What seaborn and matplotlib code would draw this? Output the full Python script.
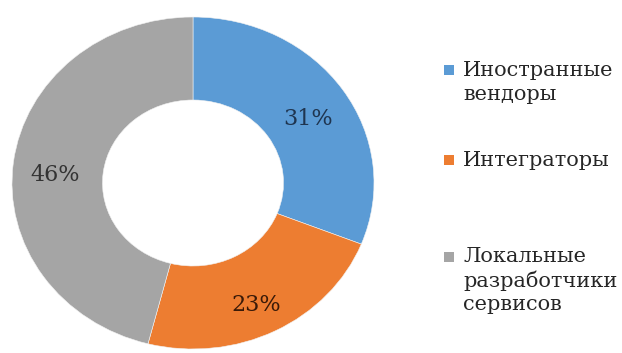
import matplotlib
matplotlib.use("Agg")
import matplotlib.pyplot as plt
from matplotlib.patches import Rectangle
import seaborn as sns

# Market share by player type
categories = ["Иностранные\nвендоры", "Интеграторы", "Локальные\nразработчики\nсервисов"]
shares = [31, 23, 46]
slice_colors = ["#5B9BD5", "#ED7D31", "#A5A5A5"]
label_colors = ["#1F3550", "#3A1A08", "#333333"]

sns.set_theme(style="white")
plt.rcParams["font.family"] = ["DejaVu Serif"]

W, H = 622, 353
fig = plt.figure(figsize=(W / 100, H / 100), dpi=100)
fig.patch.set_facecolor("white")

# Donut axes (slightly wider than tall)
cx, cy, rx, ry = 193, 183, 181, 166
ax = fig.add_axes([(cx - rx) / W, (H - cy - ry) / H, 2 * rx / W, 2 * ry / H])
wedges, texts, autotexts = ax.pie(
    shares,
    colors=slice_colors,
    startangle=90,
    counterclock=False,
    radius=1.0,
    wedgeprops=dict(width=0.5, edgecolor="#f2f2f2", linewidth=0.4),
    autopct=lambda p: f"{p:.0f}%",
    pctdistance=0.77,
    textprops=dict(fontsize=16),
)
for t, c in zip(autotexts, label_colors):
    t.set_color(c)
    x, y = t.get_position()
    t.set_position((x, y - 0.05))
ax.set_aspect("auto")
ax.set_xlim(-1, 1)
ax.set_ylim(-1, 1)
ax.axis("off")

# Legend entries: square marker aligned with the first line of each label
entry_tops = [70, 160, 257]
line_h = 24
for label, color, y in zip(categories, slice_colors, entry_tops):
    fig.add_artist(Rectangle((444 / W, (H - y - 5) / H), 10 / W, 10 / H,
                             transform=fig.transFigure, facecolor=color,
                             edgecolor="none"))
    for i, line in enumerate(label.split("\n")):
        fig.text(463 / W, (H - y - i * line_h) / H, line, fontsize=15,
                 color="#262626", va="center", ha="left")

fig.savefig("out.png", dpi=100)
